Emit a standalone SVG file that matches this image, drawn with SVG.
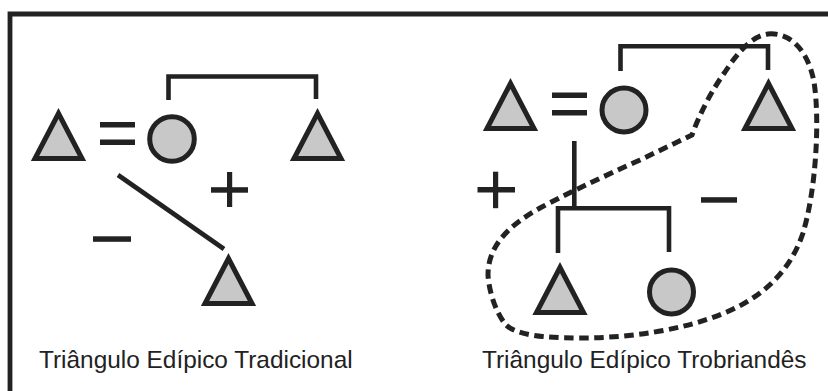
<svg xmlns="http://www.w3.org/2000/svg" width="828" height="391" viewBox="0 0 828 391">
<style>
.shape{fill:#c8c8c8;stroke:#222;stroke-width:5;stroke-linejoin:miter}
.ln{fill:none;stroke:#222;stroke-width:4.6;stroke-linecap:butt;stroke-linejoin:miter}
.bar{fill:#222}
.dash{fill:none;stroke:#222;stroke-width:5;stroke-dasharray:9.5 5.5}
.lbl{font-family:"Liberation Sans",Arial,sans-serif;font-size:24.4px;fill:#222}
</style>
<defs>
<path id="tri" d="M0,5.5 L-23.5,50.5 L23.5,50.5 Z"/>
</defs>
<rect width="828" height="391" fill="#fff"/>
<g id="frame">
<path d="M10,391 V14 H828" fill="none" stroke="#222" stroke-width="4.8"/>
</g>
<g id="connectors">
<path class="ln" d="M168.5,100 V76.5 H316 V99"/>
<line class="ln" x1="118" y1="175" x2="224" y2="249"/>
<path class="ln" d="M620.5,71 V46.3 H768 V70"/>
<line class="ln" x1="574.3" y1="141" x2="574.3" y2="208"/>
<path class="ln" d="M558,253 V208.3 H669 V252"/>
<rect class="bar" x="100" y="122" width="35" height="5.5"/>
<rect class="bar" x="100" y="139.5" width="35" height="5.5"/>
<rect class="bar" x="552" y="92.5" width="35" height="5.5"/>
<rect class="bar" x="552" y="110" width="35" height="5.5"/>
</g>
<g id="signs">
<rect class="bar" x="211" y="187.2" width="37" height="5.5"/>
<rect class="bar" x="227" y="172" width="5.2" height="35"/>
<rect class="bar" x="93" y="236.3" width="38" height="5.5"/>
<rect class="bar" x="477.5" y="187" width="37.5" height="5.5"/>
<rect class="bar" x="493" y="171.7" width="5.2" height="36.5"/>
<rect class="bar" x="701" y="197.2" width="36" height="5.5"/>
</g>
<g id="node-l-father"><use href="#tri" class="shape" transform="translate(58.5,108)"/></g>
<g id="node-l-mother"><circle class="shape" cx="172" cy="139" r="22.3"/></g>
<g id="node-l-uncle"><use href="#tri" class="shape" transform="translate(317.5,108)"/></g>
<g id="node-l-son"><use href="#tri" class="shape" transform="translate(228.5,253)"/></g>
<g id="node-r-father"><use href="#tri" class="shape" transform="translate(510.5,78)"/></g>
<g id="node-r-mother"><circle class="shape" cx="624" cy="110" r="22"/></g>
<g id="node-r-uncle"><use href="#tri" class="shape" transform="translate(768.5,78)"/></g>
<g id="node-r-son"><use href="#tri" class="shape" transform="translate(560,262)"/></g>
<g id="node-r-daughter"><circle class="shape" cx="671.5" cy="292" r="22"/></g>
<g id="enclosure">
<path class="dash" d="M768,34 C790,32 808,50 814,82 C820,120 816,190 803,233 C790,272 762,298 722,314 C682,330 630,338 580,338 C542,338 517,335 506,325 C496,313 489,292 488,275 C488,246 508,226 540,208 C562,196 600,178 640,160 L692,135 C700,113 712,90 725,72 C738,52 752,36 768,34 Z"/>
</g>
<g id="labels">
<text class="lbl" x="39" y="368">Triângulo Edípico Tradicional</text>
<text class="lbl" x="482" y="368">Triângulo Edípico Trobriandês</text>
</g>
</svg>
